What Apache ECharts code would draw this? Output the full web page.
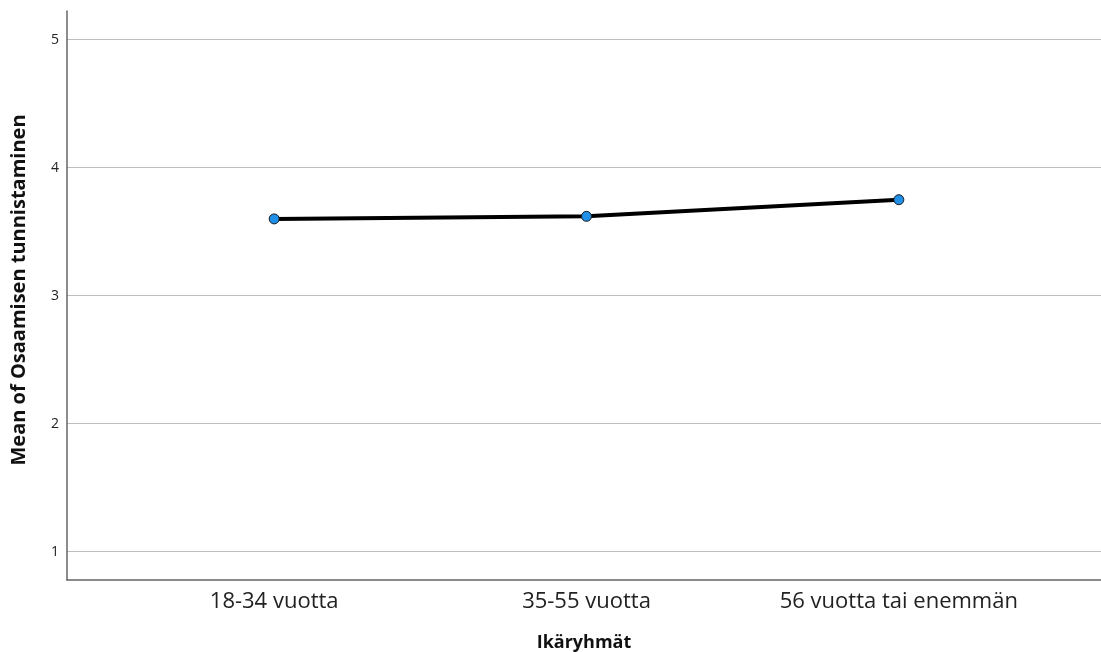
<!DOCTYPE html>
<html>
<head>
<meta charset="utf-8">
<title>Ikäryhmät</title>
<script src="https://cdn.jsdelivr.net/npm/echarts@6/dist/echarts.min.js"></script>
<style>
    html, body { margin: 0; padding: 0; background: #fff; }
    #chart { width: 1101px; height: 652px; }
</style>
</head>
<body>
<div id="chart"></div>
<script>
// 数据
const categories = ['18-34 vuotta', '35-55 vuotta', '56 vuotta tai enemmän']
const means = [3.60, 3.62, 3.75]
const yTicks = [1, 2, 3, 4, 5]

const chart = echarts.init(document.getElementById('chart'))
const font = '"Open Sans", "DejaVu Sans", sans-serif'

const option = {
    animation: false,
    grid: [
        // 外框 (坐标轴线)
        { left: 67, right: 0, top: 11, bottom: 72, outerBoundsMode: 'none' },
        // 网格线 + y 轴刻度
        { left: 67, right: 0, top: 39.7, bottom: 100.3, outerBoundsMode: 'none' },
        // 数据
        { left: 118, right: 46, top: 39.7, bottom: 100.3, outerBoundsMode: 'none' }
    ],
    xAxis: [
        {
            gridIndex: 0, type: 'value', min: 0, max: 1,
            axisLine: { show: true, lineStyle: { color: '#666', width: 1.5 } },
            axisTick: { show: false }, axisLabel: { show: false }, splitLine: { show: false },
            name: 'Ikäryhmät', nameLocation: 'middle', nameGap: 54,
            nameTextStyle: { fontFamily: font, fontSize: 18, fontWeight: 'bold', color: '#111' }
        },
        { gridIndex: 1, type: 'value', min: 0, max: 1, show: false },
        {
            gridIndex: 2, type: 'category', data: categories, boundaryGap: true,
            offset: 29,
            axisLine: { show: false }, axisTick: { show: false },
            axisLabel: { margin: 10, fontFamily: font, fontSize: 22, color: '#222' }
        }
    ],
    yAxis: [
        {
            gridIndex: 0, type: 'value', min: 0, max: 1,
            axisLine: { show: true, lineStyle: { color: '#666', width: 1.5 } },
            axisTick: { show: false }, axisLabel: { show: false }, splitLine: { show: false },
            name: 'Mean of Osaamisen tunnistaminen', nameLocation: 'middle', nameGap: 38,
            nameTextStyle: { fontFamily: font, fontSize: 20, fontWeight: 'bold', color: '#111', padding: [0, 0, 0, 11] }
        },
        {
            gridIndex: 1, type: 'value', min: yTicks[0], max: yTicks[yTicks.length - 1], interval: 1,
            axisLine: { show: false }, axisTick: { show: false },
            axisLabel: { margin: 8, fontFamily: font, fontSize: 14, color: '#222' },
            splitLine: { lineStyle: { color: '#bdbdbd', width: 1 } }
        },
        { gridIndex: 2, type: 'value', min: yTicks[0], max: yTicks[yTicks.length - 1], show: false }
    ],
    series: [
        {
            type: 'line',
            xAxisIndex: 2,
            yAxisIndex: 2,
            data: means,
            symbol: 'circle',
            symbolSize: 10,
            lineStyle: { color: '#000', width: 4 },
            itemStyle: { color: '#1f8fe8', borderColor: '#1a1a1a', borderWidth: 1 }
        }
    ]
}
chart.setOption(option)
</script>
</body>
</html>
